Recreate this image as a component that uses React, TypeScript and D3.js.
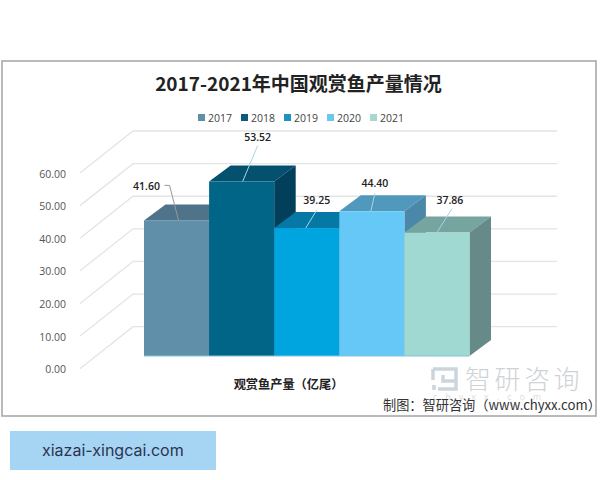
import React from "react";
import * as d3 from "d3";

const years = ["2017", "2018", "2019", "2020", "2021"];
const values = [41.6, 53.52, 39.25, 44.4, 37.86];
const ticks = [0, 10, 20, 30, 40, 50, 60];

const frontColors = ["#5f8fa9", "#006587", "#00a5df", "#66c8f7", "#a0d9d2"];
const topColors = ["#4f7389", "#03506f", "#0678a6", "#5099bd", "#76a5a0"];
const sideColors = ["#3f6074", "#023f5a", "#05648a", "#4a87a8", "#658a87"];
const legendColors = ["#5f8fa5", "#0e5a7e", "#1e92c0", "#6cc6ee", "#a5d8d0"];

// label position relative to the top middle of each bar front: [labelX, labelY, startX, startY, elbowX, endX]
const labelOffsets = [
  [-30, -30, -12, -35, -7, 2],
  [16, -41, 16, -36, 16, 1],
  [10, -24, 10, -18, 10, -1],
  [3, -24, 3, -18, 3, -1],
  [13, -29, 15, -24, 15, 0],
];

const FONT = "'Noto Sans CJK SC', 'Noto Sans', sans-serif";
const LATIN = "'Open Sans', 'Noto Sans', sans-serif";

export default function App() {
  const x = d3.scaleBand().domain(years).range([144, 469.5]);
  const yFront = d3.scaleLinear().domain([0, 60]).range([356, 160.4]);
  const yBack = d3.scaleLinear().domain([0, 60]).range([326.7, 131]);
  const depthX = 21.5;
  const depthY = 16;
  const wallX = 53;
  const wallY = 42;
  const line = d3.line();

  return (
    <svg
      width={600}
      height={480}
      style={{ position: "absolute", left: 0, top: 0, background: "#fff" }}
    >
      <rect x={2} y={61} width={594} height={355} fill="#fff" stroke="#a9a9a9" strokeWidth={1.6} />

      <text x={298.5} y={91} textAnchor="middle" fontFamily={FONT} fontWeight={700} fontSize={19} fill="#222">
        2017-2021年中国观赏鱼产量情况
      </text>

      {years.map((yr, i) => (
        <g key={yr} transform={`translate(${198 + i * 43},0)`}>
          <rect y={114} width={7} height={7} fill={legendColors[i]} />
          <text x={10} y={121.5} fontFamily={LATIN} fontSize={10.5} fill="#444">
            {yr}
          </text>
        </g>
      ))}

      {ticks.map((t) => (
        <g key={t}>
          <path
            d={
              line([
                [133 - wallX, yBack(t) + wallY],
                [133, yBack(t)],
                [557, yBack(t)],
              ]) as string
            }
            fill="none"
            stroke="#e4e4e4"
            strokeWidth={1.3}
          />
          <text
            x={66}
            y={yBack(t) + wallY + 4.5}
            textAnchor="end"
            fontFamily={LATIN}
            fontSize={10.5}
            fill="#555"
          >
            {d3.format(".2f")(t)}
          </text>
        </g>
      ))}

      {years.map((yr, i) => {
        const x0 = x(yr) as number;
        const x1 = x0 + x.bandwidth();
        const yTop = yFront(values[i]);
        const yBase = yFront(0);
        const top = line([
          [x0, yTop],
          [x0 + depthX, yTop - depthY],
          [x1 + depthX, yTop - depthY],
          [x1, yTop],
        ]);
        const side = line([
          [x1, yTop],
          [x1 + depthX, yTop - depthY],
          [x1 + depthX, yBase - depthY],
          [x1, yBase],
        ]);
        return (
          <g key={yr}>
            <path d={top as string} fill={topColors[i]} />
            <path d={side as string} fill={sideColors[i]} />
            <rect x={x0} y={yTop} width={x.bandwidth()} height={yBase - yTop} fill={frontColors[i]} />
          </g>
        );
      })}
      <path
        d={line([[144, yFront(0)], [469.5, yFront(0)]]) as string}
        stroke="#7fc4dc"
        strokeWidth={1}
      />

      {years.map((yr, i) => {
        const cx = (x(yr) as number) + x.bandwidth() / 2;
        const yTop = yFront(values[i]);
        const [lx, ly, sx, sy, ex, tx] = labelOffsets[i];
        return (
          <g key={yr}>
            <path
              d={
                line([
                  [cx + sx, yTop + sy],
                  [cx + ex, yTop + sy],
                  [cx + tx, yTop],
                ]) as string
              }
              fill="none"
              stroke={i === 0 ? "#999" : "#a8d4e6"}
              strokeWidth={1}
            />
            <text
              x={cx + lx}
              y={yTop + ly}
              textAnchor="middle"
              fontFamily={LATIN}
              fontWeight={600}
              fontSize={10.5}
              fill="#222"
            >
              {d3.format(".2f")(values[i])}
            </text>
          </g>
        );
      })}

      <text x={288.5} y={389} textAnchor="middle" fontFamily={FONT} fontWeight={700} fontSize={12.2} fill="#222">
        观赏鱼产量（亿尾）
      </text>

      {/* watermark */}
      <g stroke="#ccd5dd" strokeWidth={3.5} fill="none">
        <path d="M433 369H456V381H443V375M433 369V380M456 381V389H438" />
        <path d="M434 385V390" />
      </g>
      <text x={465} y={389} fontFamily={FONT} fontWeight={300} fontSize={26} letterSpacing={3.5} fill="#cfd3d6">
        智研咨询
      </text>
      <text x={433} y={400} fontFamily={LATIN} fontSize={9} letterSpacing={8} fill="#d9dcde">
        chyxx.com
      </text>

      <text x={383} y={410} fontFamily={FONT} fontSize={13.2} fill="#333">
        制图：智研咨询（www.chyxx.com）
      </text>

      <rect x={10} y={431} width={206} height={39} fill="#a6d5f3" />
      <text x={42} y={456} fontFamily="Inter, 'Noto Sans', sans-serif" fontSize={16} fill="#2c3350">
        xiazai-xingcai.com
      </text>
    </svg>
  );
}
